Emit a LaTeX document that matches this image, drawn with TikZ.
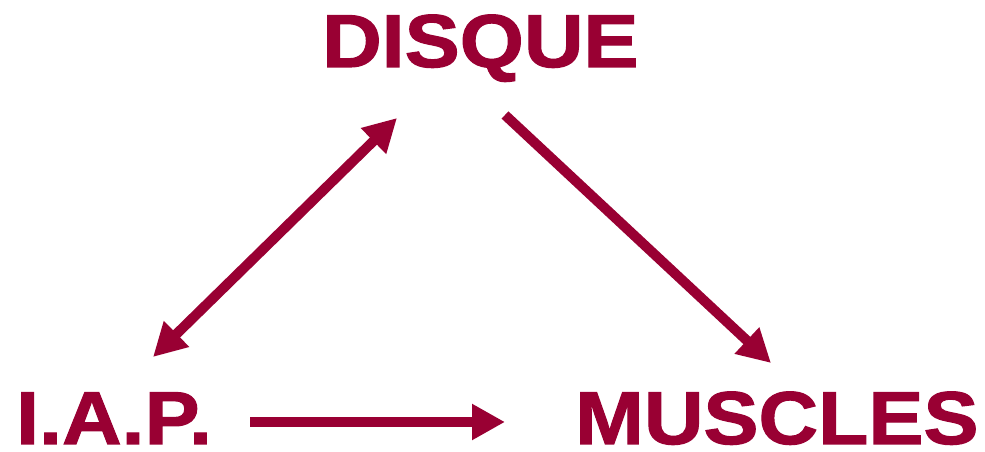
\documentclass[tikz,border=0pt]{standalone}
\usepackage{fontspec}
\setmainfont{Liberation Sans}[FakeStretch=1.1,FakeBold=1.5]
\usepackage{xcolor}
\usepackage{tikz}
\usetikzlibrary{calc,positioning,arrows.meta}
\definecolor{wine}{HTML}{990033}

\begin{document}
\begin{tikzpicture}[
  x=1pt, y=1pt,
  termbox/.style={
    inner sep=0pt, anchor=base west,
    font=\fontsize{75}{80}\selectfont\bfseries, text=wine,
  },
  link/.style={
    draw=wine, line width=10pt,
    -{Triangle[length=33pt,width=34pt]},
  },
]
\useasboundingbox (0,0) rectangle (985,452);

\node[termbox] (disque) at (322, 385) {DISQUE};
\node[termbox] (iap) at (16, 8) {I.A.P.};
\node[termbox] (muscles) at (575, 8) {MUSCLES};

\draw[link, {Triangle[length=33pt,width=34pt]}-{Triangle[length=33pt,width=34pt]}]
  ([shift={(137pt,87pt)}]iap.base west) -- ([shift={(75pt,-51pt)}]disque.base west);
\draw[link] ([shift={(183pt,-48pt)}]disque.base west) -- ([shift={(196pt,81pt)}]muscles.base west);
\draw[link] ([shift={(234pt,22pt)}]iap.base west) -- ([shift={(-70pt,22pt)}]muscles.base west);

\end{tikzpicture}
\end{document}
